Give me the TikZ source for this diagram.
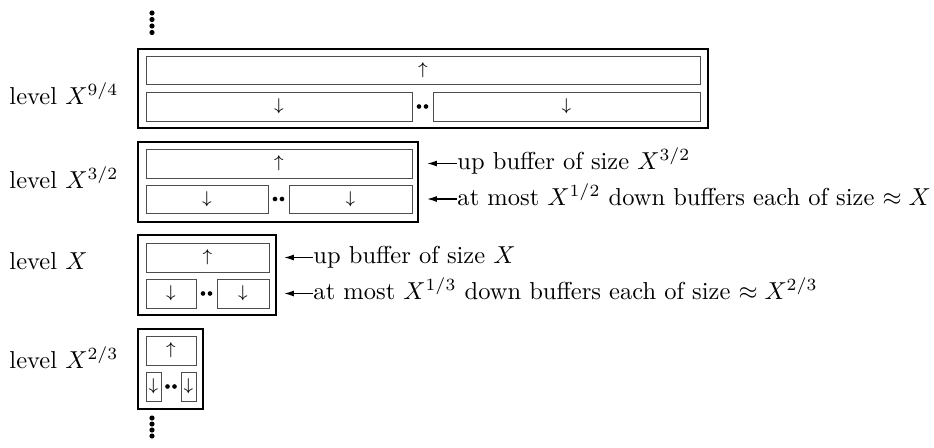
\documentclass[tikz,border=0pt]{standalone}
\usetikzlibrary{fit,arrows.meta}
\begin{document}
\begin{tikzpicture}[x=0.408pt,y=-0.408pt,
  levelbox/.style={draw, line width=0.55pt, inner sep=0pt},
  buf/.style={draw=black!70, line width=0.4pt, inner sep=0pt},
  upbuf/.style={buf, label={[font=\scriptsize, inner sep=0pt]center:$\uparrow$}},
  downbuf/.style={buf, label={[font=\scriptsize, inner sep=0pt]center:$\downarrow$}},
  lbl/.style={anchor=base west, inner sep=0pt},
  note/.style={anchor=base west, inner sep=0pt},
  ptr/.style={-{Latex[length=4pt,width=2.4pt]}, line width=0.5pt},
  hdot/.style={circle, fill, inner sep=0pt, minimum size=1.9pt},
  vdot/.style={circle, fill, inner sep=0pt, minimum size=2.1pt}]
\useasboundingbox (0,0) rectangle (934,447);

% vertical dots
\foreach \i/\yy in {1/13,2/19.5,3/26,4/32.5}{\node[vdot] (top\i) at (152,\yy) {};}
\foreach \i/\yy in {1/418,2/424,3/430,4/436}{\node[vdot] (bot\i) at (152,\yy) {};}

% level X^{9/4}
\node[lbl] (l1) at (9,104) {level $X^{9/4}$};
\node[levelbox, fit={(138,49) (708,128)}] (o1) {};
\node[upbuf, fit={(146,56) (700,84)}] (u1) {};
\node[downbuf, fit={(146,92) (412,121)}] (d1a) {};
\node[downbuf, fit={(433,92) (700,121)}] (d1b) {};
\node[hdot] (p1a) at (419,106.5) {};
\node[hdot] (p1b) at (426,106.5) {};

% level X^{3/2}
\node[lbl] (l2) at (9,188) {level $X^{3/2}$};
\node[levelbox, fit={(138,142) (418,222)}] (o2) {};
\node[upbuf, fit={(146,149) (412,178)}] (u2) {};
\node[downbuf, fit={(146,185) (268,213)}] (d2a) {};
\node[downbuf, fit={(289,185) (412,213)}] (d2b) {};
\node[hdot] (p2a) at (275,199) {};
\node[hdot] (p2b) at (282,199) {};
\coordinate (c2u) at (427,163.5);
\coordinate (c2d) at (427,199);
\node[note] (n2u) at (457,169.5) {up buffer of size $X^{3/2}$};
\node[note] (n2d) at (457,205) {at most $X^{1/2}$ down buffers each of size $\approx X$};
\draw[ptr] (c2u -| n2u.west) -- (c2u);
\draw[ptr] (c2d -| n2d.west) -- (c2d);

% level X
\node[lbl] (l3) at (9,269) {level $X$};
\node[levelbox, fit={(138,235) (276,315)}] (o3) {};
\node[upbuf, fit={(146,243) (269,272)}] (u3) {};
\node[downbuf, fit={(146,279) (196,308)}] (d3a) {};
\node[downbuf, fit={(217,279) (269,308)}] (d3b) {};
\node[hdot] (p3a) at (203,293.5) {};
\node[hdot] (p3b) at (210,293.5) {};
\coordinate (c3u) at (284,257.5);
\coordinate (c3d) at (284,293.5);
\node[note] (n3u) at (313,263.5) {up buffer of size $X$};
\node[note] (n3d) at (313,299.5) {at most $X^{1/3}$ down buffers each of size $\approx X^{2/3}$};
\draw[ptr] (c3u -| n3u.west) -- (c3u);
\draw[ptr] (c3d -| n3d.west) -- (c3d);

% level X^{2/3}
\node[lbl] (l4) at (9,368) {level $X^{2/3}$};
\node[levelbox, fit={(138,329) (203,409)}] (o4) {};
\node[upbuf, fit={(146,336) (196,365)}] (u4) {};
\node[downbuf, fit={(146,372) (161,401)}] (d4a) {};
\node[downbuf, fit={(181,372) (196,401)}] (d4b) {};
\node[hdot] (p4a) at (167.5,386.5) {};
\node[hdot] (p4b) at (174.5,386.5) {};
\end{tikzpicture}
\end{document}
